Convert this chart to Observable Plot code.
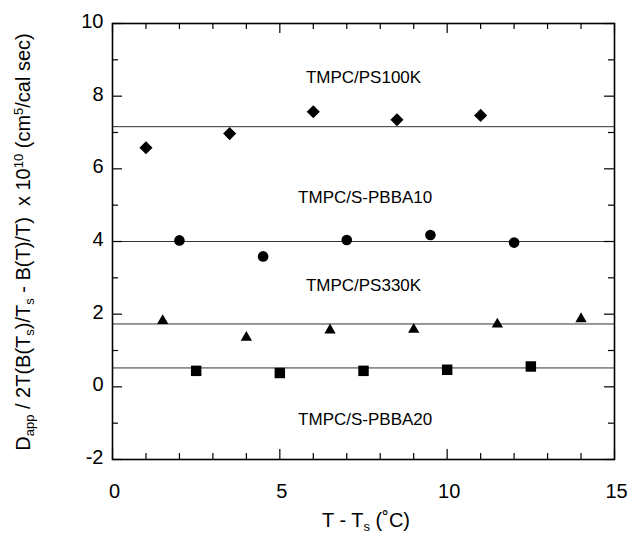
<!DOCTYPE html>
<html>
<head>
<meta charset="utf-8">
<script src="https://cdn.jsdelivr.net/npm/d3@7"></script>
<script src="https://cdn.jsdelivr.net/npm/@observablehq/plot@0.6"></script>
<style>
  html, body { margin: 0; padding: 0; background: #fff; }
  #chart { width: 631px; height: 536px; }
  svg { font-family: "Liberation Sans", Arial, Helvetica, sans-serif; }
</style>
</head>
<body>
<div id="chart"></div>
<script>
// ---- data ----
const xPS100K = [1, 3.5, 6, 8.5, 11];
const yPS100K = [6.58, 6.97, 7.57, 7.35, 7.47];

const xSPBBA10 = [2, 4.5, 7, 9.5, 12];
const ySPBBA10 = [4.03, 3.59, 4.04, 4.18, 3.97];

const xPS330K = [1.5, 4, 6.5, 9, 11.5, 14];
const yPS330K = [1.82, 1.36, 1.56, 1.58, 1.72, 1.87];

const xSPBBA20 = [2.5, 5, 7.5, 10, 12.5];
const ySPBBA20 = [0.44, 0.38, 0.44, 0.47, 0.56];

const fitLevels = [7.16, 4.0, 1.73, 0.52];

const seriesNames = ["TMPC/PS100K", "TMPC/S-PBBA10", "TMPC/PS330K", "TMPC/S-PBBA20"];
const labelX = [7.5, 7.55, 7.5, 7.55];
const labelY = [8.5, 5.2, 2.78, -0.89];

const xMajor = [0, 5, 10, 15];
const xMinor = [1, 2, 3, 4, 6, 7, 8, 9, 11, 12, 13, 14];
const yMajor = [-2, 0, 2, 4, 6, 8, 10];
const yMinor = [-1, 1, 3, 5, 7, 9];

// ---- layout ----
const W = 631, H = 536;
const mL = 112, mR = 17, mT = 23, mB = 77;
const innerW = W - mL - mR, innerH = H - mT - mB;

const pts = (xs, ys) => xs.map((x, i) => ({x, y: ys[i]}));
const labels = seriesNames.map((t, i) => ({t, x: labelX[i], y: labelY[i]}));

const tickStyle = {stroke: "black", strokeWidth: 1.2};
const majorLen = 10, minorLen = 6;

const plot = Plot.plot({
  width: W, height: H,
  marginLeft: mL, marginRight: mR, marginTop: mT, marginBottom: mB,
  x: {domain: [0, 15]},
  y: {domain: [-2, 10]},
  style: {fontFamily: "Liberation Sans, Arial, Helvetica, sans-serif", background: "white", color: "black"},
  marks: [
    Plot.ruleY(fitLevels, {y: d => d, stroke: "#333", strokeWidth: 1}),
    // inward ticks on all four sides
    Plot.ruleX(xMajor, {x: d => d, insetTop: innerH - majorLen, ...tickStyle}),
    Plot.ruleX(xMinor, {x: d => d, insetTop: innerH - minorLen, ...tickStyle}),
    Plot.ruleX(xMajor, {x: d => d, insetBottom: innerH - majorLen, ...tickStyle}),
    Plot.ruleX(xMinor, {x: d => d, insetBottom: innerH - minorLen, ...tickStyle}),
    Plot.ruleY(yMajor, {y: d => d, insetRight: innerW - majorLen, ...tickStyle}),
    Plot.ruleY(yMinor, {y: d => d, insetRight: innerW - minorLen, ...tickStyle}),
    Plot.ruleY(yMajor, {y: d => d, insetLeft: innerW - majorLen, ...tickStyle}),
    Plot.ruleY(yMinor, {y: d => d, insetLeft: innerW - minorLen, ...tickStyle}),
    Plot.frame({stroke: "black", strokeWidth: 1.6}),
    Plot.axisX({ticks: xMajor, tickSize: 0, tickPadding: 24, fontSize: 20, dx: 2, label: null, tickFormat: d => String(d)}),
    Plot.axisY({ticks: yMajor, tickSize: 0, tickPadding: 9, fontSize: 20, dy: -2, label: null, tickFormat: d => String(d)}),
    Plot.dot(pts(xPS100K, yPS100K), {x: "x", y: "y", symbol: "diamond2", r: 5.9, fill: "black", stroke: "none"}),
    Plot.dot(pts(xSPBBA10, ySPBBA10), {x: "x", y: "y", symbol: "circle", r: 5.3, fill: "black", stroke: "none"}),
    Plot.dot(pts(xPS330K, yPS330K), {x: "x", y: "y", symbol: "triangle", r: 4.2, fill: "black", stroke: "none"}),
    Plot.dot(pts(xSPBBA20, ySPBBA20), {x: "x", y: "y", symbol: "square", r: 5.9, fill: "black", stroke: "none"}),
    Plot.text(labels, {x: "x", y: "y", text: "t", fontSize: 17, fill: "black", textAnchor: "middle"})
  ]
});

document.getElementById("chart").appendChild(plot);

// ---- axis titles with sub/superscripts ----
const svg = d3.select(plot);
function rich(sel, parts) {
  parts.forEach(([txt, kind]) => {
    const ts = sel.append("tspan").text(txt);
    if (kind === "sub") ts.attr("font-size", "65%").attr("baseline-shift", "-30%");
    else if (kind === "sup") ts.attr("font-size", "65%").attr("baseline-shift", "55%");
  });
}

const xt = svg.append("text")
  .attr("x", mL + innerW / 2 + 3).attr("y", 527)
  .attr("text-anchor", "middle").attr("font-size", 20).attr("fill", "black");
rich(xt, [["T - T"], ["s", "sub"], [" (˚C)"]]);

const yt = svg.append("text")
  .attr("transform", `translate(30,${mT + innerH / 2 + 1}) rotate(-90)`)
  .attr("text-anchor", "middle").attr("font-size", 20).attr("fill", "black")
  .attr("xml:space", "preserve");
rich(yt, [["D"], ["app", "sub"], [" / 2T(B(T"], ["s", "sub"], [")/T"], ["s", "sub"],
          [" - B(T)/T)  x 10"], ["10", "sup"], [" (cm"], ["5", "sup"], ["/cal sec)"]]);
</script>
</body>
</html>
